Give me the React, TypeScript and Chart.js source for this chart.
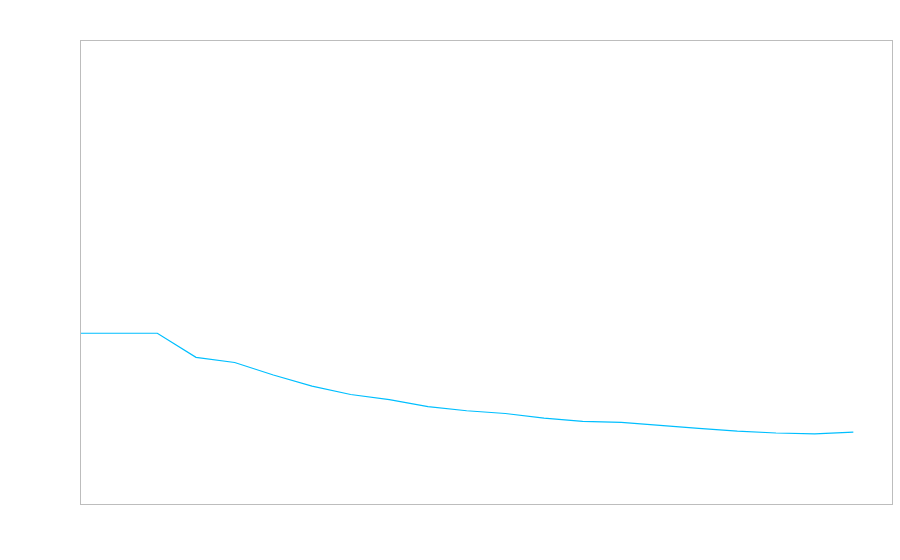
import React, { useEffect, useRef } from "react";
import { Chart, registerables } from "chart.js";

Chart.register(...registerables);

const categories: string[] = [
  "1", "2", "3", "4", "5", "6", "7", "8", "9", "10", "11",
  "12", "13", "14", "15", "16", "17", "18", "19", "20", "21", "22",
];

const seriesValues: number[] = [
  36.8, 36.8, 36.8, 31.6, 30.5, 27.8, 25.4, 23.6, 22.5, 21.0, 20.1,
  19.5, 18.5, 17.8, 17.6, 16.96, 16.3, 15.7, 15.3, 15.1, 15.5,
];

const yMin = 0;
const yMax = 100;

const framePlugin = {
  id: "frame",
  afterDraw(chart: any) {
    const { ctx, chartArea } = chart;
    ctx.save();
    ctx.strokeStyle = "#bdbdbd";
    ctx.lineWidth = 1;
    ctx.strokeRect(
      chartArea.left + 0.5,
      chartArea.top + 0.5,
      chartArea.right - chartArea.left,
      chartArea.bottom - chartArea.top
    );
    ctx.restore();
  },
};

export default function App() {
  const ref = useRef<HTMLCanvasElement | null>(null);

  useEffect(() => {
    if (!ref.current) return;
    const chart = new Chart(ref.current, {
      type: "line",
      data: {
        labels: categories,
        datasets: [
          {
            data: seriesValues,
            borderColor: "rgb(0,191,255)",
            borderWidth: 1.2,
            pointRadius: 0,
            tension: 0,
            fill: false,
          },
        ],
      },
      options: {
        responsive: false,
        animation: false,
        layout: { padding: { left: 80, top: 40, right: 8, bottom: 56 } },
        plugins: {
          legend: { display: false },
          tooltip: { enabled: false },
          title: { display: false },
        },
        scales: {
          x: { display: false, offset: false },
          y: { display: false, min: yMin, max: yMax },
        },
      },
      plugins: [framePlugin],
    });
    return () => chart.destroy();
  }, []);

  return (
    <div style={{ position: "absolute", left: 0, top: 0, width: 900, height: 560, background: "#fff" }}>
      <canvas ref={ref} width={900} height={560} style={{ display: "block" }} />
    </div>
  );
}
